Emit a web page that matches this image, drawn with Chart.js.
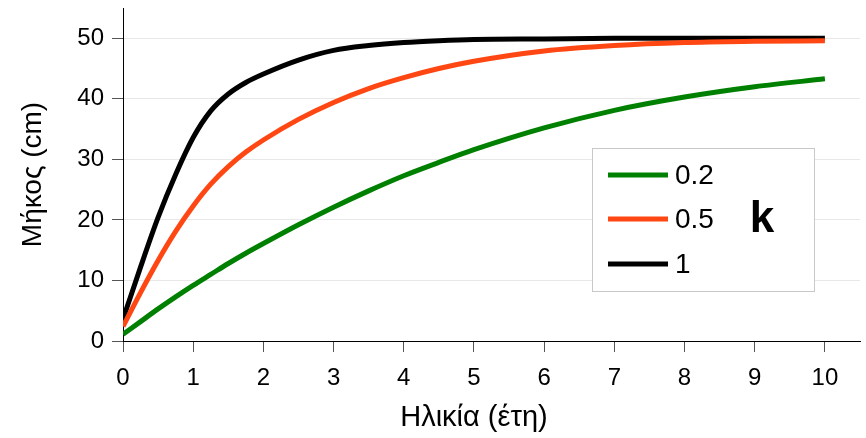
<!DOCTYPE html>
<html lang="el">
<head>
    <meta charset="UTF-8">
    <title>Μήκος - Ηλικία</title>
    <script src="https://cdn.jsdelivr.net/npm/chart.js"></script>
    <style>
        html, body {
            margin: 0;
            padding: 0;
            background: #ffffff;
        }

        #wrap {
            width: 866px;
            height: 438px;
        }
    </style>
</head>
<body>

    <div id="wrap">
        <canvas id="myChart" width="866" height="438"></canvas>
    </div>

    <script>
        // ηλικία (έτη)
        var ages = [0, 0.25, 0.5, 0.75, 1, 1.25, 1.5, 1.75, 2, 2.5, 3, 3.5, 4, 4.5, 5, 6, 7, 8, 9, 10];

        // μήκος (cm) για κάθε k
        var lengthK02 = [1.1, 3.2, 5.3, 7.3, 9.2, 11.0, 12.8, 14.5, 16.1, 19.2, 22.1, 24.8, 27.3, 29.5, 31.6, 35.2, 38.1, 40.3, 42.0, 43.3];
        var lengthK05 = [2.4, 8.0, 13.3, 18.1, 22.3, 25.9, 28.8, 31.2, 33.2, 36.6, 39.4, 41.7, 43.5, 45.0, 46.2, 47.9, 48.8, 49.3, 49.5, 49.6];
        var lengthK1 = [3.6, 12.2, 20.4, 27.5, 33.6, 38.0, 40.8, 42.7, 44.1, 46.4, 48.0, 48.8, 49.3, 49.6, 49.8, 49.9, 50.0, 50.0, 50.0, 50.0];

        var seriesLabels = ['0.2', '0.5', '1'];
        var seriesColors = ['#008000', '#ff4713', '#000000'];
        var legendTitle = 'k';

        var xTicks = [0, 1, 2, 3, 4, 5, 6, 7, 8, 9, 10];
        var yTicks = [0, 10, 20, 30, 40, 50];
        var xTitle = 'Ηλικία (έτη)';
        var yTitle = 'Μήκος (cm)';

        var FONT = '"Liberation Sans", Arial, sans-serif';

        function toPoints(values) {
            return ages.map(function (a, i) {
                return { x: a, y: values[i] };
            });
        }

        function makeDataset(label, values, color) {
            return {
                label: label,
                data: toPoints(values),
                borderColor: color,
                backgroundColor: color,
                borderWidth: 5,
                pointRadius: 0,
                fill: false,
                cubicInterpolationMode: 'monotone'
            };
        }

        // legend box inside the plot, drawn by hand
        var boxLegend = {
            id: 'boxLegend',
            afterDraw: function (chart) {
                var ctx = chart.ctx;
                var x = 592.5, y = 148.5, w = 222, h = 143;
                ctx.save();
                ctx.fillStyle = '#ffffff';
                ctx.fillRect(x, y, w, h);
                ctx.strokeStyle = '#c8c8c8';
                ctx.lineWidth = 1;
                ctx.strokeRect(x, y, w, h);

                var rows = [175, 219, 264];
                chart.data.datasets.forEach(function (ds, i) {
                    ctx.strokeStyle = ds.borderColor;
                    ctx.lineWidth = 5;
                    ctx.beginPath();
                    ctx.moveTo(608, rows[i]);
                    ctx.lineTo(668, rows[i]);
                    ctx.stroke();

                    ctx.fillStyle = '#000000';
                    ctx.font = '28px ' + FONT;
                    ctx.textAlign = 'left';
                    ctx.textBaseline = 'middle';
                    ctx.fillText(ds.label, 675, rows[i] + 1);
                });

                ctx.font = 'bold 44px ' + FONT;
                ctx.textAlign = 'center';
                ctx.textBaseline = 'middle';
                ctx.fillText(legendTitle, 762, 220);
                ctx.restore();
            }
        };

        // x title centred under the 0..10 span
        var xAxisTitle = {
            id: 'xAxisTitle',
            afterDraw: function (chart) {
                var ctx = chart.ctx;
                var sx = chart.scales.x;
                var cx = (sx.getPixelForValue(xTicks[0]) + sx.getPixelForValue(xTicks[xTicks.length - 1])) / 2;
                ctx.save();
                ctx.fillStyle = '#000000';
                ctx.font = '29px ' + FONT;
                ctx.textAlign = 'center';
                ctx.textBaseline = 'middle';
                ctx.fillText(xTitle, cx, 418);
                ctx.restore();
            }
        };

        var ctx = document.getElementById('myChart').getContext('2d');
        var myChart = new Chart(ctx, {
            type: 'line',
            data: {
                datasets: [
                    makeDataset(seriesLabels[0], lengthK02, seriesColors[0]),
                    makeDataset(seriesLabels[1], lengthK05, seriesColors[1]),
                    makeDataset(seriesLabels[2], lengthK1, seriesColors[2])
                ]
            },
            options: {
                responsive: false,
                animation: false,
                layout: {
                    padding: { left: 0, right: 6, top: 8, bottom: 0 }
                },
                plugins: {
                    legend: { display: false },
                    tooltip: { enabled: false }
                },
                scales: {
                    x: {
                        type: 'linear',
                        min: 0,
                        max: 10.5,
                        afterBuildTicks: function (scale) {
                            scale.ticks = xTicks.map(function (v) { return { value: v }; });
                        },
                        afterFit: function (scale) {
                            scale.height = 97;
                        },
                        grid: {
                            drawOnChartArea: false,
                            tickLength: 11,
                            tickColor: '#555555',
                            tickWidth: 1
                        },
                        border: { color: '#000000', width: 1 },
                        ticks: {
                            color: '#000000',
                            padding: 12,
                            maxRotation: 0,
                            font: { family: FONT, size: 24 }
                        }
                    },
                    y: {
                        min: 0,
                        max: 55,
                        afterBuildTicks: function (scale) {
                            scale.ticks = yTicks.map(function (v) { return { value: v }; });
                        },
                        afterFit: function (scale) {
                            scale.width = 123;
                            scale.paddingTop = 0;
                            scale.paddingBottom = 0;
                        },
                        grid: {
                            color: '#e8e8e8',
                            lineWidth: 1,
                            tickLength: 11,
                            tickColor: '#555555'
                        },
                        border: { color: '#000000', width: 1 },
                        ticks: {
                            color: '#000000',
                            padding: 8,
                            font: { family: FONT, size: 24 }
                        },
                        title: {
                            display: true,
                            text: yTitle,
                            color: '#000000',
                            padding: { top: 16, bottom: 0 },
                            font: { family: FONT, size: 28 }
                        }
                    }
                }
            },
            plugins: [boxLegend, xAxisTitle]
        });
    </script>

</body>
</html>
